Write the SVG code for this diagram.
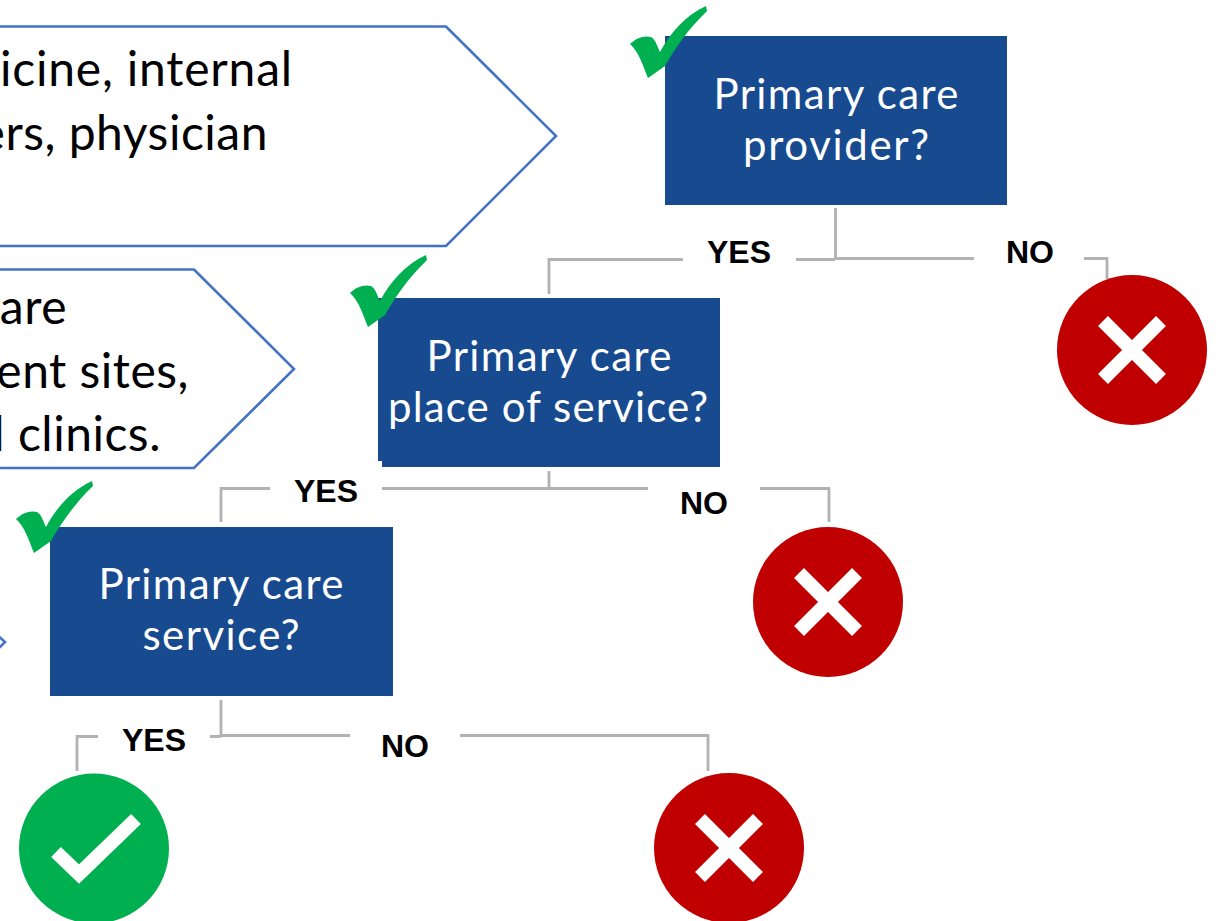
<svg xmlns="http://www.w3.org/2000/svg" width="1216" height="921" viewBox="0 0 1216 921">
<style>
.chev{fill:#fff;stroke:#4472c4;stroke-width:2.6}
.box{fill:#184a90}
.q{font-family:"Lato","Noto Sans",sans-serif;font-size:42px;fill:#fff;text-anchor:middle}
.t{font-family:"Lato","Noto Sans",sans-serif;font-size:48px;fill:#000;letter-spacing:.5px;text-anchor:end}
.l{font-family:"Liberation Sans",Arial,sans-serif;font-size:32px;font-weight:bold;fill:#000;text-anchor:middle}
.c{fill:none;stroke:#b3b1b1;stroke-width:2.8}
.x{fill:none;stroke:#fff;stroke-width:14}
.red{fill:#c00000}
.grn{fill:#00b050}
</style>
<defs>
<path id="tick" d="M0 44C6 38 14 35 21 37C26 40 27 46 30 52C40 33 56 15 76 6L77 11C58 29 44 50 35 66L18 78C13 66 9 52 0 44Z"/>
<g id="no"><circle class="red" r="75"/><path class="x" d="M-29 -29L29 29M29 -29L-29 29"/></g>
</defs>
<g id="connectors">
<path class="c" d="M835.500 208V259M683 259.500H549V294M796 259.500H835M835 258.500H974M1084 258.500H1107V279"/>
<path class="c" d="M549 471V488.500M270 488.500H221V522M382 488.500H648M760 488.500H829V522"/>
<path class="c" d="M221 700V736M98 736.500H77V771M210 736.500H221M221 735.500H350M460 735.500H708V771"/>
</g>
<g id="chevron1"><path class="chev" d="M-5 26.500H446L556 136L446 246H-5Z"/>
<text class="t" x="293" y="86" style="letter-spacing:.8px">icine, internal</text>
<text class="t" x="268" y="150">ers, physician</text></g>
<g id="chevron2"><path class="chev" d="M-5 269.500H194L294 369L194 468H-5Z"/>
<text class="t" x="67" y="324">are</text>
<text class="t" x="189" y="388">ent sites,</text>
<text class="t" x="161" y="451">l clinics.</text></g>
<g id="chevron3"><path class="chev" d="M-5 633L5 642L-5 652"/></g>
<g id="q1"><rect class="box" x="665" y="36" width="342" height="169"/>
<use href="#tick" class="grn" x="630" y="0"/>
<text class="q" x="836" y="109" textLength="245" lengthAdjust="spacing">Primary care</text><text class="q" x="836" y="160" textLength="186" lengthAdjust="spacing">provider?</text></g>
<g id="q2"><rect class="box" x="378" y="298" width="342" height="163"/><rect class="box" x="382" y="310" width="338" height="157"/>
<use href="#tick" class="grn" x="350" y="249"/>
<text class="q" x="549" y="371" textLength="245" lengthAdjust="spacing">Primary care</text><text class="q" x="548" y="422" textLength="320" lengthAdjust="spacing">place of service?</text></g>
<g id="q3"><rect class="box" x="50" y="527" width="343" height="169"/>
<use href="#tick" class="grn" x="16" y="475"/>
<text class="q" x="221" y="599" textLength="245" lengthAdjust="spacing">Primary care</text><text class="q" x="221" y="650" textLength="157" lengthAdjust="spacing">service?</text></g>
<g id="end1"><use href="#no" x="1132" y="350"/></g>
<g id="end2"><use href="#no" x="828" y="602"/></g>
<g id="end3"><use href="#no" x="729" y="848"/></g>
<g id="end4"><circle class="grn" cx="94" cy="848.500" r="75"/><path class="x" d="M56 852L79 874L136 819"/></g>
<g id="labels">
<text class="l" x="739" y="263">YES</text>
<text class="l" x="1030" y="263">NO</text>
<text class="l" x="326" y="502">YES</text>
<text class="l" x="704" y="514">NO</text>
<text class="l" x="154" y="751">YES</text>
<text class="l" x="405" y="757">NO</text>
</g>
</svg>
